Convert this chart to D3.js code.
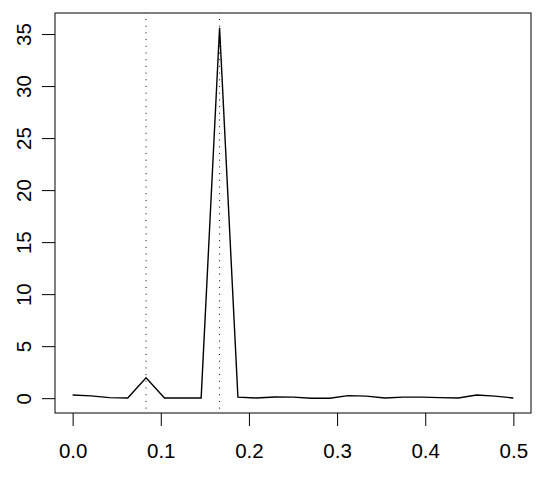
<!DOCTYPE html>
<html lang="en">
<head>
  <meta charset="UTF-8">
  <title>Periodogram</title>
  <script src="https://d3js.org/d3.v7.min.js"></script>
  <style>
    body { margin: 0; background: #fff; }
    text { font-family: "Liberation Sans", Arial, sans-serif; }
  </style>
</head>
<body>

<div id="my_dataviz"></div>

<script>
  // frequencies (cycles per observation) and spectrum values
  const freq = [0, 0.0208, 0.0417, 0.0625, 0.0833, 0.1042, 0.125, 0.1458, 0.1667,
                0.1875, 0.2083, 0.2292, 0.25, 0.2708, 0.2917, 0.3125, 0.3333, 0.3542,
                0.375, 0.3958, 0.4167, 0.4375, 0.4583, 0.4792, 0.5];
  const spec = [0.30, 0.22, 0.05, 0.02, 1.95, 0.02, 0.02, 0.02, 35.6,
                0.10, 0.02, 0.12, 0.10, 0.0, 0.0, 0.25, 0.20, 0.02,
                0.10, 0.10, 0.05, 0.02, 0.30, 0.20, 0.02];
  const peaks = [0.0833, 0.1667];
  const xTicks = [0, 0.1, 0.2, 0.3, 0.4, 0.5];
  const yTicks = [0, 5, 10, 15, 20, 25, 30, 35];

  const width = 550, height = 483;
  const box = {left: 55, right: 531, top: 13, bottom: 413};

  const svg = d3.select("#my_dataviz")
          .append("svg")
          .attr("width", width)
          .attr("height", height);

  // R style 4% padding on the data range
  const xr = [d3.min(freq), d3.max(freq)];
  const yr = [d3.min(spec), d3.max(spec)];
  const xp = (xr[1] - xr[0]) * 0.04, yp = (yr[1] - yr[0]) * 0.04;

  const x = d3.scaleLinear().domain([xr[0] - xp, xr[1] + xp]).range([box.left, box.right]);
  const y = d3.scaleLinear().domain([yr[0] - yp, yr[1] + yp]).range([box.bottom, box.top]);

  // dotted reference lines at the peaks
  svg.selectAll(".peak")
          .data(peaks)
          .enter()
          .append("line")
          .attr("class", "peak")
          .attr("x1", d => x(d)).attr("x2", d => x(d))
          .attr("y1", box.top).attr("y2", box.bottom)
          .attr("stroke", "#000")
          .attr("stroke-width", 1)
          .attr("stroke-dasharray", "1,5.7")
          .attr("stroke-dashoffset", -6);

  // spectrum line
  const line = d3.line()
          .x((d, i) => x(freq[i]))
          .y(d => y(d));

  svg.append("path")
          .datum(spec)
          .attr("d", line)
          .attr("fill", "none")
          .attr("stroke", "#000")
          .attr("stroke-width", 1.4);

  // axes
  const xAxis = svg.append("g")
          .attr("transform", "translate(0," + box.bottom + ")")
          .call(d3.axisBottom(x).tickValues(xTicks).tickFormat(d3.format(".1f")).tickSize(13).tickPadding(17));
  xAxis.select(".domain").remove();
  xAxis.selectAll("text").attr("font-size", 20.5).attr("fill", "#000").attr("font-family", "Liberation Sans, Arial, sans-serif");
  xAxis.selectAll("line").attr("stroke", "#000");

  const yAxis = svg.append("g")
          .attr("transform", "translate(" + box.left + ",0)")
          .call(d3.axisLeft(y).tickValues(yTicks).tickFormat(d3.format("d")).tickSize(13));
  yAxis.select(".domain").remove();
  yAxis.selectAll("line").attr("stroke", "#000");
  yAxis.selectAll("text")
          .attr("x", null).attr("dy", null)
          .attr("font-size", 20.5).attr("fill", "#000").attr("font-family", "Liberation Sans, Arial, sans-serif")
          .attr("text-anchor", "middle")
          .attr("transform", "translate(-24,0) rotate(-90)");

  // plot box
  svg.append("rect")
          .attr("x", box.left).attr("y", box.top)
          .attr("width", box.right - box.left)
          .attr("height", box.bottom - box.top)
          .attr("fill", "none")
          .attr("stroke", "#000")
          .attr("stroke-width", 1);
</script>

</body>
</html>
